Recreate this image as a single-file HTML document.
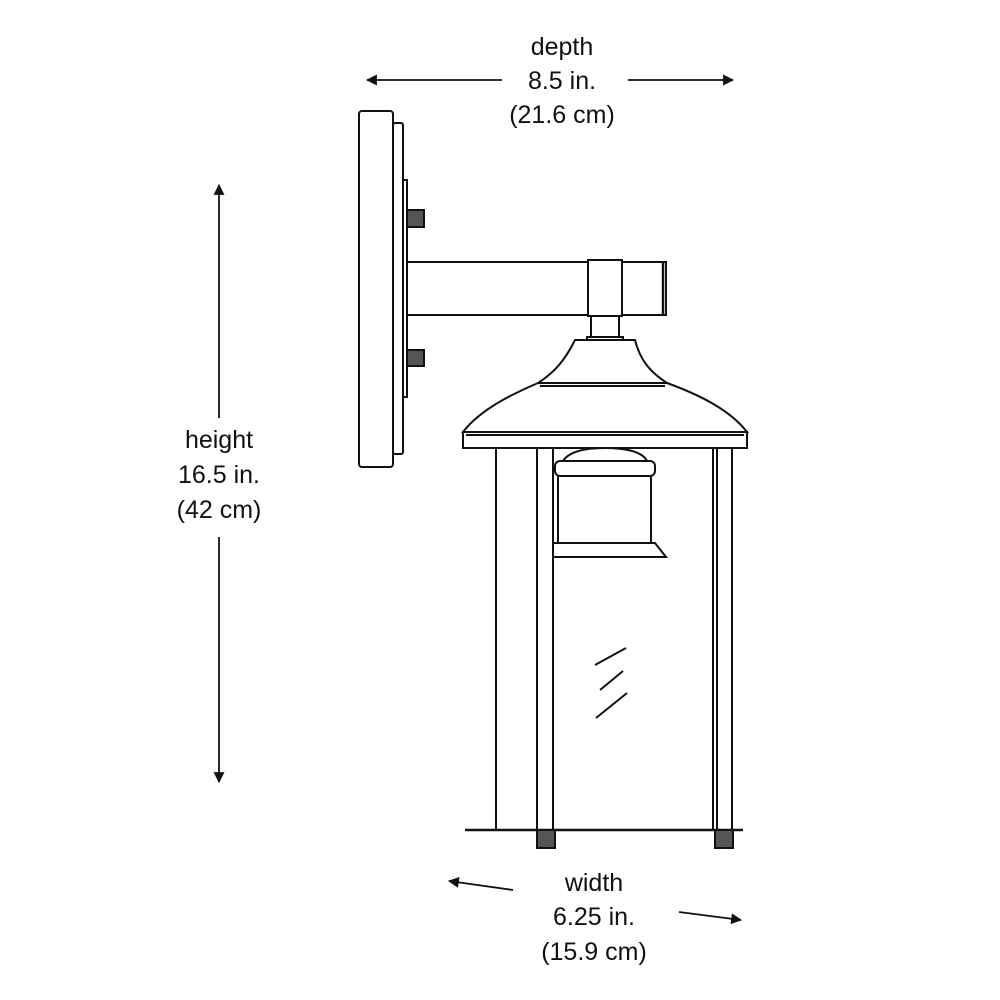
<!DOCTYPE html>
<html><head><style>
html,body{margin:0;padding:0;background:#fff;}
svg{display:block}
text{font-family:"Liberation Sans",sans-serif;font-size:25px;fill:#111;text-anchor:middle}
</style></head><body>
<svg width="1000" height="1000" viewBox="0 0 1000 1000" xmlns="http://www.w3.org/2000/svg">
<defs>
<marker id="ah" viewBox="0 0 10 10" refX="9" refY="5" markerWidth="11" markerHeight="11" markerUnits="userSpaceOnUse" orient="auto"><path d="M0,0 L10,5 L0,10 Z" fill="#111"/></marker>
</defs>
<g stroke="#111" stroke-width="2" fill="#fff">
<rect x="359" y="111" width="34" height="356" rx="3"/>
<rect x="393" y="123" width="10" height="331" rx="2"/>
<rect x="403" y="180" width="4" height="217"/>
<rect x="407" y="210" width="17" height="17" fill="#555"/>
<rect x="407" y="350" width="17" height="16" fill="#555"/>
<rect x="407" y="262" width="259" height="53"/>
<line x1="663" y1="262" x2="663" y2="315" stroke-width="2.5"/>
<rect x="588" y="260" width="34" height="56"/>
<rect x="591" y="316" width="28" height="21"/>
<rect x="587" y="337" width="36" height="3"/>
<path d="M575,340 L635,340 C640,360 650,372 667,383 C700,395 730,410 747,432 L463,432 C480,410 510,395 538,383 C555,372 565,360 575,340 Z"/>
<line x1="538" y1="383" x2="667" y2="383"/>
<line x1="540" y1="386" x2="665" y2="386"/>
<rect x="463" y="432" width="284" height="16"/>
<line x1="466" y1="435" x2="744" y2="435"/>
<line x1="496" y1="448" x2="496" y2="830"/>
<rect x="537" y="448" width="16" height="382"/>
<line x1="713" y1="448" x2="713" y2="830"/>
<rect x="717" y="448" width="15" height="382"/>
<path d="M563,461 C570,450 590,448 605,448 C620,448 642,450 647,461 Z"/>
<rect x="555" y="461" width="100" height="15" rx="5"/>
<rect x="558" y="476" width="93" height="67"/>
<path d="M553,543 L655,543 L666,557 L553,557 Z"/>
<line x1="465" y1="830" x2="743" y2="830" stroke-width="2.5"/>
<rect x="537" y="830" width="18" height="18" fill="#555"/>
<rect x="715" y="830" width="18" height="18" fill="#555"/>
<line x1="595" y1="665" x2="626" y2="648"/>
<line x1="600" y1="690" x2="623" y2="671"/>
<line x1="596" y1="718" x2="627" y2="693"/>
</g>
<g stroke="#111" stroke-width="1.8" fill="none">
<line x1="502" y1="80" x2="367" y2="80" marker-end="url(#ah)"/>
<line x1="628" y1="80" x2="733" y2="80" marker-end="url(#ah)"/>
<line x1="219" y1="418" x2="219" y2="185" marker-end="url(#ah)"/>
<line x1="219" y1="537" x2="219" y2="782" marker-end="url(#ah)"/>
<line x1="513" y1="890" x2="449" y2="881" marker-end="url(#ah)"/>
<line x1="679" y1="912" x2="741" y2="920" marker-end="url(#ah)"/>
</g>
<text x="562" y="55">depth</text>
<text x="562" y="89">8.5 in.</text>
<text x="562" y="123">(21.6 cm)</text>
<text x="219" y="448">height</text>
<text x="219" y="483">16.5 in.</text>
<text x="219" y="518">(42 cm)</text>
<text x="594" y="891">width</text>
<text x="594" y="925">6.25 in.</text>
<text x="594" y="960">(15.9 cm)</text>
</svg>
</body></html>
